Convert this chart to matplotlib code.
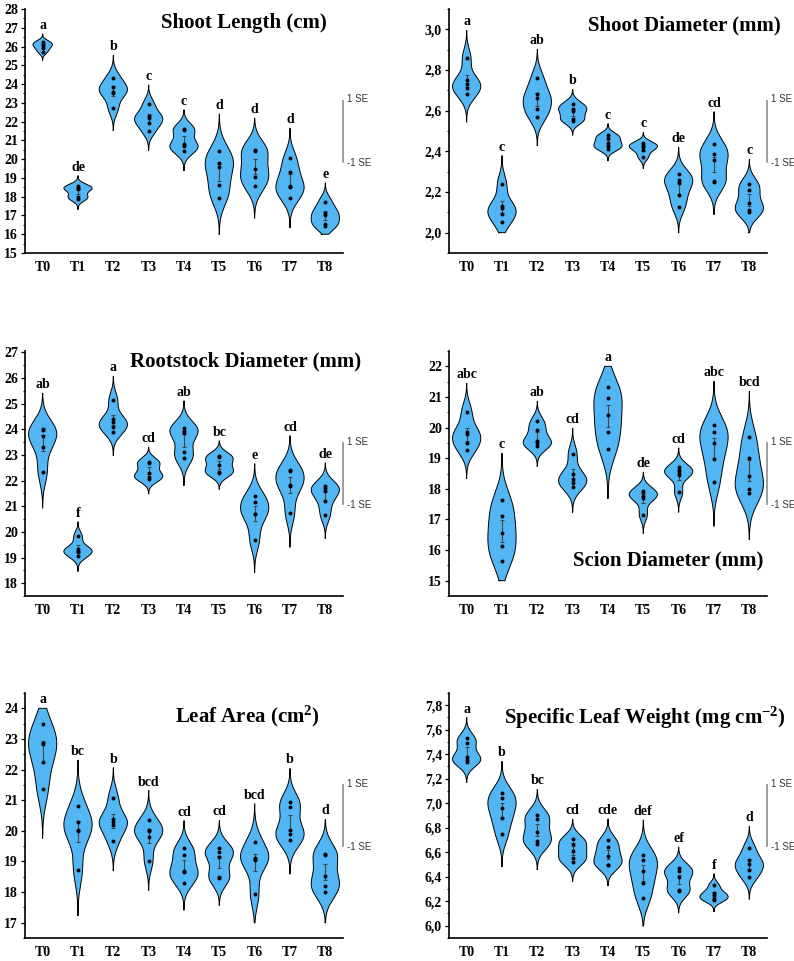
import numpy as np
import matplotlib
matplotlib.use("Agg")
import matplotlib.pyplot as plt
from matplotlib.ticker import MultipleLocator, FuncFormatter

plt.rcParams['font.family'] = ['Liberation Serif', 'DejaVu Serif']
plt.rcParams['mathtext.fontset'] = 'custom'
plt.rcParams['mathtext.rm'] = 'Liberation Serif:bold'
plt.rcParams['mathtext.bf'] = 'Liberation Serif:bold'
plt.rcParams['mathtext.it'] = 'Liberation Serif:bold:italic'
plt.rcParams['mathtext.default'] = 'bf'

# ---------------- data ----------------
categories = ['T0', 'T1', 'T2', 'T3', 'T4', 'T5', 'T6', 'T7', 'T8']

shoot_length = [
    [26.25, 26.15, 26.05, 25.90, 25.70],
    [18.55, 18.45, 18.40, 18.00, 17.90],
    [24.35, 23.85, 23.60, 23.55, 22.70],
    [22.93, 22.30, 22.20, 21.95, 21.50],
    [21.60, 21.55, 20.80, 20.70, 20.43],
    [20.45, 19.82, 19.57, 18.60, 17.95],
    [20.50, 20.45, 19.50, 19.05, 18.55],
    [20.05, 19.30, 18.55, 18.50, 17.95],
    [17.73, 17.15, 17.05, 16.55, 16.45],
]
shoot_length_letters = ['a', 'de', 'b', 'c', 'c', 'd', 'd', 'd', 'e']

shoot_diameter = [
    [2.86, 2.75, 2.73, 2.71, 2.68],
    [2.24, 2.13, 2.12, 2.09, 2.05],
    [2.76, 2.68, 2.66, 2.61, 2.57],
    [2.635, 2.61, 2.60, 2.56, 2.55],
    [2.48, 2.465, 2.44, 2.425, 2.41],
    [2.44, 2.43, 2.42, 2.405, 2.37],
    [2.29, 2.26, 2.245, 2.185, 2.125],
    [2.435, 2.385, 2.355, 2.255, 2.25],
    [2.24, 2.21, 2.145, 2.11, 2.10],
]
shoot_diameter_letters = ['a', 'c', 'ab', 'b', 'c', 'c', 'de', 'cd', 'c']

rootstock_diameter = [
    [24.02, 23.98, 23.75, 23.30, 22.32],
    [19.82, 19.35, 19.27, 19.22, 19.04],
    [25.14, 24.40, 24.27, 24.10, 23.91],
    [22.71, 22.68, 22.30, 22.12, 22.08],
    [24.05, 23.95, 23.85, 23.10, 22.87],
    [22.94, 22.90, 22.60, 22.32, 22.28],
    [21.38, 21.16, 20.70, 20.68, 19.69],
    [22.42, 22.38, 21.83, 21.80, 20.74],
    [21.78, 21.70, 21.61, 21.22, 20.66],
]
rootstock_diameter_letters = ['ab', 'f', 'a', 'cd', 'ab', 'bc', 'e', 'cd', 'de']

scion_diameter = [
    [20.52, 19.85, 19.80, 19.50, 19.27],
    [17.63, 17.12, 16.56, 16.13, 15.65],
    [20.20, 19.93, 19.55, 19.50, 19.40],
    [19.15, 18.50, 18.32, 18.20, 18.07],
    [21.31, 20.98, 20.40, 19.87, 19.29],
    [17.94, 17.88, 17.75, 17.70, 17.16],
    [18.70, 18.62, 18.51, 18.45, 17.88],
    [20.07, 19.84, 19.49, 18.97, 18.23],
    [19.69, 19.00, 18.42, 17.98, 17.85],
]
scion_diameter_letters = ['abc', 'c', 'ab', 'cd', 'a', 'de', 'cd', 'abc', 'bcd']

leaf_area = [
    [23.50, 22.88, 22.85, 22.25, 21.35],
    [20.81, 20.28, 20.04, 19.98, 18.73],
    [21.08, 20.37, 20.30, 20.20, 19.68],
    [20.35, 20.02, 19.98, 19.80, 19.03],
    [19.44, 19.20, 18.68, 18.65, 18.31],
    [19.44, 19.30, 19.16, 18.50, 18.47],
    [19.65, 19.12, 19.08, 19.05, 17.93],
    [20.94, 20.78, 20.04, 19.88, 19.69],
    [19.25, 19.22, 18.54, 18.21, 18.00],
]
leaf_area_letters = ['a', 'bc', 'b', 'bcd', 'cd', 'cd', 'bcd', 'b', 'd']

specific_leaf_weight = [
    [7.53, 7.49, 7.38, 7.35, 7.34],
    [7.08, 7.04, 6.96, 6.88, 6.745],
    [6.904, 6.874, 6.767, 6.69, 6.668],
    [6.712, 6.671, 6.614, 6.553, 6.518],
    [6.70, 6.64, 6.57, 6.50, 6.50],
    [6.581, 6.534, 6.45, 6.348, 6.225],
    [6.47, 6.45, 6.40, 6.29, 6.28],
    [6.33, 6.27, 6.25, 6.22, 6.21],
    [6.636, 6.534, 6.507, 6.458, 6.395],
]
specific_leaf_weight_letters = ['a', 'b', 'bc', 'cd', 'cde', 'def', 'ef', 'f', 'd']

# ---------------- style / layout ----------------
FILL = '#52B6F4'
W, H = 794, 961
fig = plt.figure(figsize=(W / 100, H / 100), dpi=100)


def rect(l, t, r, b):
    return [l / W, 1 - b / H, (r - l) / W, (b - t) / H]


panels = [
    dict(data=shoot_length, letters=shoot_length_letters, title='Shoot Length (cm)',
         rect=rect(25, 9, 343, 253), ylim=(15, 28), clip=(16, 28), major=1, minor=0.5,
         fmt=None, title_pos=(0.689, 0.943), widths={0: 0.55}),
    dict(data=shoot_diameter, letters=shoot_diameter_letters, title='Shoot Diameter (mm)',
         rect=rect(449, 9, 767, 253), ylim=(1.9, 3.1), clip=(2.0, 3.0), major=0.2, minor=0.1,
         fmt='comma', title_pos=(0.739, 0.934), widths={}),
    dict(data=rootstock_diameter, letters=rootstock_diameter_letters,
         title='Rootstock Diameter (mm)',
         rect=rect(25, 351, 343, 596), ylim=(17.5, 27.05), clip=(18, 27), major=1, minor=0.5,
         fmt=None, title_pos=(0.695, 0.956), widths={}),
    dict(data=scion_diameter, letters=scion_diameter_letters, title='Scion Diameter (mm)',
         rect=rect(449, 351, 767, 596), ylim=(14.5, 22.5), clip=(15, 22), major=1, minor=0.5,
         fmt=None, title_pos=(0.689, 0.144), widths={}),
    dict(data=leaf_area, letters=leaf_area_letters, title='Leaf Area (cm$^{2}$)',
         rect=rect(25, 693, 343, 938), ylim=(16.5, 24.5), clip=(17, 24), major=1, minor=0.5,
         fmt=None, title_pos=(0.698, 0.903), widths={}),
    dict(data=specific_leaf_weight, letters=specific_leaf_weight_letters,
         title='Specific Leaf Weight (mg cm$^{-2}$)',
         rect=rect(449, 693, 767, 938), ylim=(5.9, 7.9), clip=(6.0, 7.8), major=0.2, minor=0.1,
         fmt='comma', title_pos=(0.616, 0.898), widths={}),
]

for p in panels:
    ax = fig.add_axes(p['rect'])
    lo, hi = p['clip']
    for i, vals in enumerate(p['data']):
        v = np.asarray(vals, dtype=float)
        n = len(v)
        sd = v.std(ddof=1)
        bw = 0.9 * sd * n ** -0.2
        y0 = max(lo, v.min() - 3 * bw)
        y1 = min(hi, v.max() + 3 * bw)
        y = np.linspace(y0, y1, 400)
        dens = np.exp(-0.5 * ((y[:, None] - v[None, :]) / bw) ** 2).sum(axis=1)
        half = p['widths'].get(i, 0.8) / 2
        d = dens / dens.max() * half
        ax.fill_betweenx(y, i - d, i + d, facecolor=FILL, edgecolor='none', zorder=2)
        xs = np.concatenate([i - d, (i + d)[::-1], [i - d[0]]])
        ys = np.concatenate([y, y[::-1], [y[0]]])
        ax.plot(xs, ys, color='black', lw=0.7, zorder=3)
        mean = v.mean()
        se = sd / np.sqrt(n)
        ax.errorbar([i], [mean], yerr=[se], fmt='none', ecolor='#444444',
                    elinewidth=0.8, capsize=1.5, capthick=0.8, zorder=4)
        ax.scatter(np.full(n, i), v, s=8, color='black', zorder=5, linewidths=0)
        ax.annotate(p['letters'][i], (i, y1), xytext=(0, 1.5), textcoords='offset points',
                    ha='center', va='bottom', fontsize=10, fontweight='bold')

    ax.set_xlim(-0.5, 8.5)
    ax.set_ylim(*p['ylim'])
    ax.set_xticks(range(len(categories)))
    ax.set_xticklabels(categories, fontsize=10, fontweight='bold')
    ax.tick_params(axis='x', length=0, pad=6)
    ax.yaxis.set_major_locator(MultipleLocator(p['major']))
    ax.yaxis.set_minor_locator(MultipleLocator(p['minor']))
    if p['fmt'] == 'comma':
        ax.yaxis.set_major_formatter(FuncFormatter(lambda val, pos: f'{val:.1f}'.replace('.', ',')))
    else:
        ax.yaxis.set_major_formatter(FuncFormatter(lambda val, pos: f'{val:.0f}'))
    ax.tick_params(axis='y', which='major', length=3, width=0.9, labelsize=10, pad=2)
    ax.tick_params(axis='y', which='minor', length=1.8, width=0.7)
    for lab in ax.get_yticklabels():
        lab.set_fontweight('bold')
    for s in ('top', 'right'):
        ax.spines[s].set_visible(False)
    for s in ('left', 'bottom'):
        ax.spines[s].set_linewidth(1.2)

    ax.text(*p['title_pos'], p['title'], transform=ax.transAxes, ha='center', va='center',
            fontsize=15, fontweight='bold')

    # SE scale bar
    ax.plot([1.0, 1.0], [0.375, 0.625], transform=ax.transAxes, color='#8c8c8c',
            lw=1.2, clip_on=False)
    ax.text(1.012, 0.63, '1 SE', transform=ax.transAxes, ha='left', va='center',
            fontsize=7, family='Liberation Sans', color='#333333')
    ax.text(1.012, 0.37, '-1 SE', transform=ax.transAxes, ha='left', va='center',
            fontsize=7, family='Liberation Sans', color='#333333')

fig.savefig('out.png', dpi=100)
